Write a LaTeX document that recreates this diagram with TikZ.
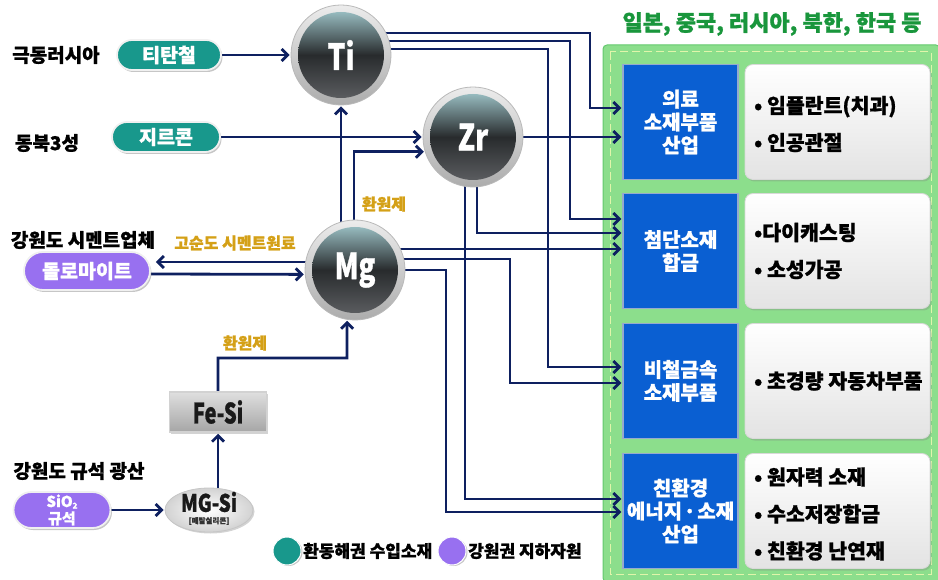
\documentclass[tikz,border=0pt]{standalone}
\usepackage{fontspec}
\setmainfont{Noto Sans CJK KR}[BoldFeatures={FakeBold=1}]
\usetikzlibrary{arrows.meta,calc,shadows,shapes.misc,shapes.geometric}
\definecolor{navy}{RGB}{14,32,96}
\definecolor{tealc}{RGB}{24,152,140}
\definecolor{purp}{RGB}{152,112,240}
\definecolor{goldc}{RGB}{212,160,23}
\definecolor{titlegreen}{RGB}{25,150,60}
\definecolor{boxblue}{RGB}{10,95,210}
\definecolor{boxedge}{RGB}{150,170,205}
\definecolor{panelgreen}{RGB}{140,222,140}
\definecolor{paneledge}{RGB}{100,200,110}
\definecolor{dashcol}{RGB}{225,245,170}
\definecolor{ballhi}{RGB}{150,186,190}
\definecolor{balldark}{RGB}{40,43,45}
\definecolor{balllo}{RGB}{90,92,95}
\newcommand\myfs[2]{\fontsize{#1}{#2}\selectfont}
\pgfdeclarelayer{panel}
\pgfdeclarelayer{conns}
\pgfsetlayers{panel,conns,main}
\tikzset{
  conn/.style={draw=navy, line width=2.8pt, shorten >=1pt, -{Straight Barb[length=6pt,width=12pt]}},
  pill/.style={rounded rectangle, draw=white!88!gray, line width=1.8pt, text=white, inner sep=2pt,
    font=\myfs{19.5}{21}\bfseries, drop shadow={shadow xshift=1.5pt, shadow yshift=-2pt, opacity=0.45}},
  ring/.style={circle, minimum size=100pt, inner sep=0pt, top color=gray!15, bottom color=gray!65, draw=gray!55, line width=0.8pt},
  core/.style={circle, minimum size=86pt, inner sep=0pt, top color=ballhi, bottom color=balllo, middle color=balldark,
    text=white, font=\myfs{36}{38}\bfseries},
  lab/.style={font=\myfs{19}{21}\bfseries, text=black},
  goldlab/.style={font=\myfs{16}{18}\bfseries, text=goldc},
  bluebox/.style={rectangle, minimum width=115pt, minimum height=115pt, fill=boxblue, draw=boxedge, line width=1.5pt,
    text=white, align=center, font=\myfs{20}{23}\bfseries, inner sep=1pt},
  wbox/.style={rectangle, rounded corners=8pt, minimum width=185pt, minimum height=115pt, top color=white, bottom color=gray!22,
    draw=gray!30, line width=0.8pt, drop shadow={shadow xshift=1.5pt, shadow yshift=-2pt, opacity=0.3}},
  bul/.style={anchor=west, align=left, font=\myfs{20.5}{37}\bfseries, text=black},
  legdot/.style={circle, minimum size=28pt, inner sep=0pt, draw=white, line width=1pt, drop shadow={shadow xshift=1.5pt, shadow yshift=-1pt, opacity=0.45}},
  leg/.style={font=\myfs{17}{19}\bfseries, text=black, anchor=west, inner sep=0pt}
}
\begin{document}
\begin{tikzpicture}[x=1pt,y=-1pt]
\useasboundingbox (0,0) rectangle (938,580);
% right panel
\begin{pgfonlayer}{panel}
\path[fill=panelgreen, draw=paneledge, line width=1pt, rounded corners=4pt] (603,45) rectangle (940,582);
\draw[dashcol, line width=1pt, dash pattern=on 8pt off 4pt] (610,52) rectangle (931,574);
\end{pgfonlayer}
\node[font=\myfs{22}{24}\bfseries, text=titlegreen] (title) at (772,24) {일본, 중국, 러시아, 북한, 한국 등};

% industry boxes
\node[bluebox] (b1) at (680.5,122) {의료\\소재부품\\산업};
\node[bluebox] (b2) at (680.5,251) {첨단소재\\합금};
\node[bluebox] (b3) at (680.5,381) {비철금속\\소재부품};
\node[bluebox] (b4) at (680.5,511) {친환경\\에너지\hspace{1.5pt}·\hspace{1.5pt}소재\\산업};
\node[wbox] (w1) at (837.5,122) {};
\node[wbox] (w2) at (837.5,251) {};
\node[wbox] (w3) at (837.5,381) {};
\node[wbox] (w4) at (837.5,511) {};
\node[bul] (t1) at ($(w1.west)+(6,2)$) {• 임플란트(치과)\\• 인공관절};
\node[bul] (t2) at ($(w2.west)+(6,0)$) {•다이캐스팅\\• 소성가공};
\node[bul] (t3) at ($(w3.west)+(6,0)$) {• 초경량 자동차부품};
\node[bul] (t4) at ($(w4.west)+(6,3)$) {• 원자력 소재\\• 수소저장합금\\• 친환경 난연재};

% left labels and pills
\node[lab] (l1) at (56,55) {극동러시아};
\node[lab] (l2) at (47,143) {동북3성};
\node[lab] (l3) at (83,240) {강원도 시멘트업체};
\node[lab] (l4) at (79,471) {강원도 규석 광산};
\node[pill, fill=tealc, minimum width=108pt, minimum height=30pt] (tit) at (169,55) {티탄철};
\node[pill, fill=tealc, minimum width=112pt, minimum height=30pt] (zir) at (166,137) {지르콘};
\node[pill, fill=purp, minimum width=130pt, minimum height=38pt] (dol) at (87,271) {돌로마이트};
\node[pill, fill=purp, minimum width=97pt, minimum height=36pt, inner sep=0pt, align=center, font=\myfs{15}{17}\bfseries] (sio) at (62,510) {SiO\raisebox{-1.5pt}{\myfs{8}{8}2}\\규석};

% balls
\node[ring] (ti) at (341,55) {};
\node[core] (tic) at (ti) {\scalebox{0.78}[1]{Ti}};
\node[ring] (zr) at (473,137) {};
\node[core] (zrc) at (zr) {\scalebox{0.78}[1]{Zr}};
\node[ring] (mg) at (355,270) {};
\node[core] (mgc) at (mg) {\scalebox{0.76}[1]{Mg}};

% Fe-Si and MG-Si
\node[rectangle, minimum width=97pt, minimum height=40pt, top color=gray!25, bottom color=gray!70, draw=gray!35, line width=1.5pt,
  font=\myfs{28}{30}\bfseries, text=black!90, drop shadow={shadow xshift=1.5pt, shadow yshift=-1.5pt, opacity=0.35}] (fesi) at (218,412) {\scalebox{0.72}[1]{Fe-Si}};
\node[ellipse, minimum width=88pt, minimum height=44pt, inner color=white, outer color=gray!35, draw=gray!45, line width=0.8pt,
  drop shadow={shadow xshift=1.5pt, shadow yshift=-1.5pt, opacity=0.35}] (mgsi) at (209,510) {};
\node[font=\myfs{24}{25}\bfseries, text=black!90, inner sep=0pt] (mgsit) at (209,502) {\scalebox{0.8}[1]{MG-Si}};
\node[font=\myfs{7.5}{8}\bfseries, text=black!80, inner sep=0pt] (mgsis) at (209,521) {[메탈실리콘]};

% gold labels
\node[goldlab] (g1) at (384,204) {환원제};
\node[goldlab] (g2) at (235,243) {고순도 시멘트원료};
\node[goldlab] (g3) at (245,343) {환원제};

% legend
\node[legdot, fill=tealc] (ld1) at (287,551) {};
\node[leg] (lt1) at (303,551) {환동해권 수입소재};
\node[legdot, fill=purp] (ld2) at (452,551) {};
\node[leg] (lt2) at (468,551) {강원권 지하자원};

% connectors
\begin{pgfonlayer}{conns}
\coordinate (k1) at (590,108);
\coordinate (k2) at (570,219);
\coordinate (k3) at (548,367);
\coordinate (k4) at (477,233);
\coordinate (k5) at (465,499);
\coordinate (k7) at (510,383);
\coordinate (k8) at (446,512);
\coordinate (k9) at (150,274);
\coordinate (k10) at (347,358);
\draw[conn] (tit.east) -- (ti.west);
\draw[conn] (zir.east) -- (zr.west);
\draw[conn] (mg.center -| ti.center) -- (ti.south);
\draw[conn] ($(mg.center)+(-1,0)$) |- (zr.197);
\draw[conn] ($(ti.center)+(0,-22)$) -| (k1) -- (b1.west |- k1);
\draw[conn] ($(ti.center)+(0,-14)$) -| (k2) -- (b2.west |- k2);
\draw[conn] ($(ti.center)+(0,-6)$) -| (k3) -- (b3.west |- k3);
\draw[conn] (zr.center) -- (b1.west |- zr.center);
\draw[conn] (zr.center -| k4) -- (k4) -- (b2.west |- k4);
\draw[conn] (zr.center -| k5) -- (k5) -- (b4.west |- k5);
\draw[conn] ($(mg.center)+(0,-21)$) coordinate (m1) -- (b2.west |- m1);
\draw[conn] ($(mg.center)+(0,-11)$) -| (k7) -- (b3.west |- k7);
\draw[conn] (mg.center) -| (k8) -- (b4.west |- k8);
\draw[conn] ($(mg.center)+(0,-8)$) coordinate (m2) -- ($(dol.east |- m2)+(4,0)$);
\draw[conn] (dol.east |- k9) -- (mg.185);
\draw[conn] (fesi.north) |- (k10) -- (mg.261);
\draw[conn] (fesi.south |- mgsi.center) -- (fesi.south);
\draw[conn] (sio.east) -- (mgsi.west);
\end{pgfonlayer}
\end{tikzpicture}
\end{document}
